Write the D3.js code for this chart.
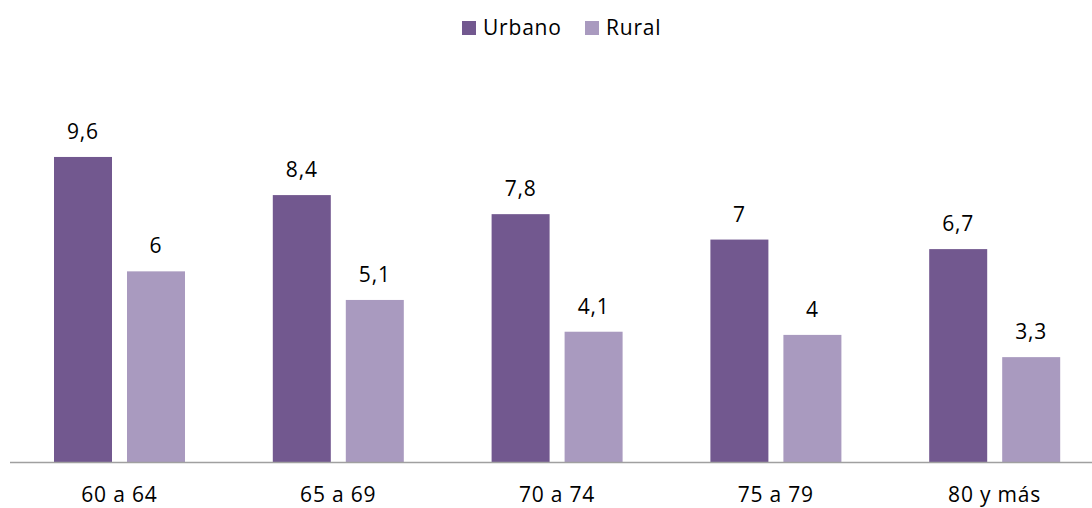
<!DOCTYPE html>
<html><head><meta charset="utf-8">
<script src="https://cdn.jsdelivr.net/npm/d3@7"></script>
<style>body{margin:0;background:#fff}svg{display:block}text{font-family:"Open Sans",sans-serif;fill:#000;letter-spacing:0.8px}</style>
</head><body>
<svg id="c" width="1092" height="508"></svg>
<script>
const categories = ["60 a 64","65 a 69","70 a 74","75 a 79","80 y más"];
const seriesNames = ["Urbano","Rural"];
const urbano = [9.6,8.4,7.8,7,6.7];
const rural = [6,5.1,4.1,4,3.3];
const colors = ["#72588f","#a99abf"];

const svg = d3.select("#c");
const baseY = 462;
const x = d3.scaleBand().domain(categories).range([10,1104]);
const xi = d3.scaleBand().domain(seriesNames).range([44,44+131]).paddingInner(15/73);
const y = d3.scaleLinear().domain([0,12]).range([baseY, baseY-381.3]);
const data = categories.map((c,i)=>({cat:c, vals:[urbano[i], rural[i]]}));
const fmt = v => String(v).replace(".", ",");

const g = svg.append("g");
data.forEach(d=>{
  d.vals.forEach((v,j)=>{
    const bx = x(d.cat)+xi(seriesNames[j]);
    g.append("rect").attr("x",bx).attr("y",y(v)).attr("width",xi.bandwidth()).attr("height",baseY-y(v)).attr("fill",colors[j]);
    g.append("text").attr("x",bx+xi.bandwidth()/2).attr("y",y(v)-18).attr("text-anchor","middle").attr("font-size",21).text(fmt(v));
  });
});
// axis
const ax = svg.append("g").attr("transform",`translate(0,${baseY})`).call(d3.axisBottom(x).tickSize(0).tickPadding(0));
ax.select(".domain").attr("stroke","#a0a0a0").attr("stroke-width",1.5).attr("d","M10,0.5H1104");
ax.selectAll(".tick text").attr("font-size",21).attr("font-family","Open Sans, sans-serif").attr("fill","#000").attr("dy",null).attr("y",40);

// legend
const leg = svg.append("g");
const lx = [462,585];
seriesNames.forEach((s,j)=>{
  leg.append("rect").attr("x",lx[j]).attr("y",21).attr("width",14).attr("height",14).attr("fill",colors[j]);
  leg.append("text").attr("x",lx[j]+21).attr("y",35).attr("font-size",21).text(s);
});
</script>
</body></html>
